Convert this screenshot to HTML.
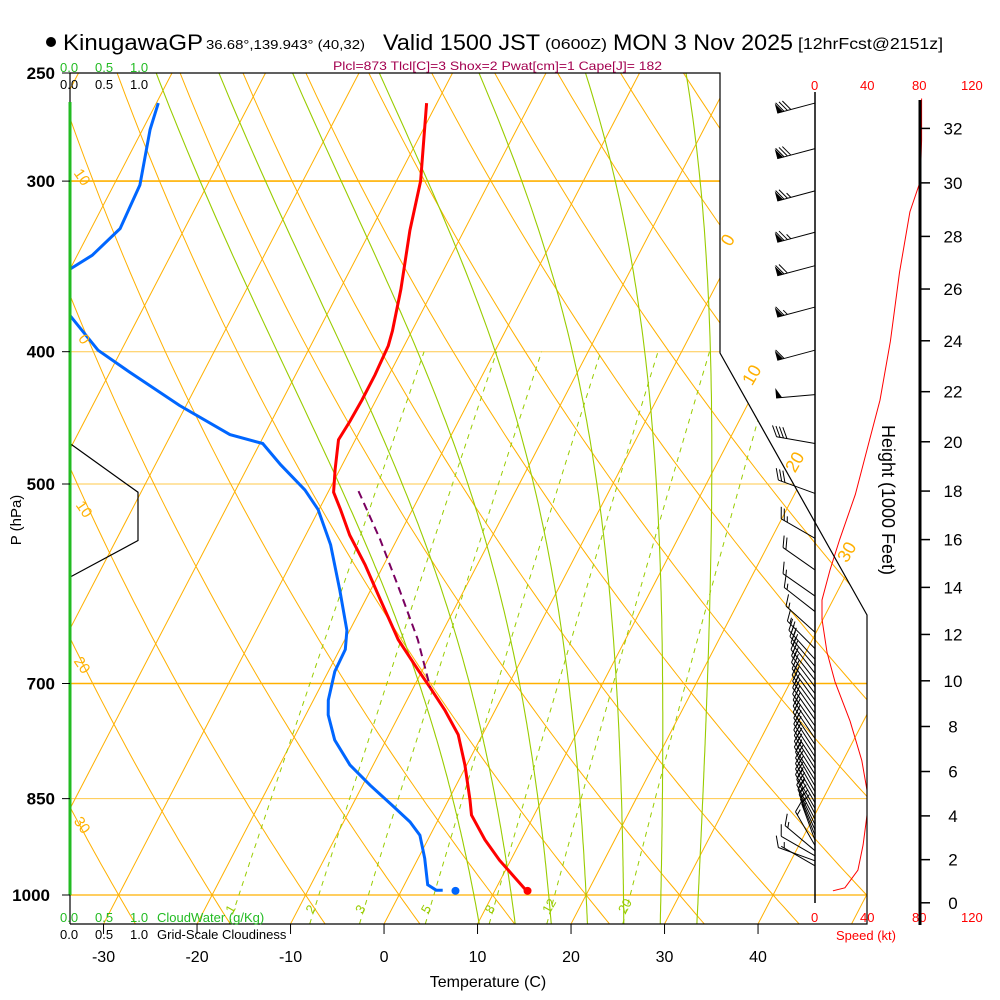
<!DOCTYPE html>
<html><head><meta charset="utf-8">
<style>
html,body{margin:0;padding:0;background:#fff;}
svg{display:block;font-family:"Liberation Sans",sans-serif;}
</style></head>
<body>
<svg id="chart" width="1000" height="1000" viewBox="0 0 1000 1000" xmlns="http://www.w3.org/2000/svg">
<defs><clipPath id="plotclip"><polygon points="70,73 720,73 720,353 867,615 867,924 70,924"/></clipPath>
<clipPath id="leftclip"><rect x="70" y="73" width="800" height="851"/></clipPath></defs>
<g id="grid" clip-path="url(#plotclip)"></g>
<g id="series"></g>
<g id="axes"></g>
<g font-size="22">
<circle cx="51" cy="42" r="5" fill="#000"/>
<text x="63" y="50" textLength="140" lengthAdjust="spacingAndGlyphs">KinugawaGP</text>
<text x="206" y="49" font-size="13" textLength="159" lengthAdjust="spacingAndGlyphs">36.68°,139.943° (40,32)</text>
<text x="383" y="50" textLength="157" lengthAdjust="spacingAndGlyphs">Valid 1500 JST</text>
<text x="545" y="49" font-size="15" textLength="62" lengthAdjust="spacingAndGlyphs">(0600Z)</text>
<text x="613" y="50" textLength="180" lengthAdjust="spacingAndGlyphs">MON 3 Nov 2025</text>
<text x="798" y="49" font-size="16" textLength="145" lengthAdjust="spacingAndGlyphs">[12hrFcst@2151z]</text>
</g>
<text x="333" y="70" font-size="12" fill="#a3004f" textLength="329" lengthAdjust="spacingAndGlyphs">Plcl=873 Tlcl[C]=3 Shox=2 Pwat[cm]=1 Cape[J]= 182</text>
</svg>
<script>
// ---- data ----
const tempP=[263,300,326,360,386,396,416,434,450,464,488,507,522,545,573,608,650,684,705,732,763,803,852,874,911,943,972,993];
const tempT=[-41.1,-37.4,-35.8,-33.5,-32.1,-31.7,-31.5,-31.5,-31.6,-31.8,-30.5,-29.4,-27.7,-25.3,-22.0,-18.4,-14.3,-10.5,-8.2,-5.4,-2.6,-0.2,2.3,3.3,6.1,8.8,11.5,13.4];
const dewP=[263,275,302,325,340,348,360,376,399,414,438,460,467,484,505,522,554,598,640,661,686,720,738,770,803,831,859,884,904,940,983,992,992];
const dewT=[-69.8,-69.2,-67.2,-66.9,-68.4,-70,-78,-67.5,-62.5,-57.9,-50.7,-43.7,-39.7,-36.6,-32.6,-30.1,-26.8,-23.3,-20.3,-19.4,-19.3,-18.4,-17.6,-15.5,-12.5,-9.2,-5.8,-2.9,-1.1,0.7,2.5,3.7,4.4];
const sfcT=[993,13.4];
const sfcTd=[993,5.8];
const parcelP=[506,549,598,650,705];
const parcelT=[-26.8,-21.8,-16.9,-12.2,-8.2];
const speedP=[993,988,959,919,874,838,797,746,698,664,628,608,578,549,509,464,434,393,350,316,300,280,261];
const speedKt=[13.8,23,33,37,40,40,36,27,15.4,9.2,5.4,5.4,11.5,19,31,42,50,58,65,73,81,82,82];
const cloudP=[467,507,550,585];
const cloudFrac=[0,1,1,0];
const barbP=[263,284,305,327,346,371,399,430,467,508,548,578,604,620,642,660,672,680,688,696,704,712,720,728,736,744,752,760,768,776,784,792,800,808,816,824,832,840,848,856,864,872,880,888,896,904,912,920,928,936,944,952];
const barbDir=[255,255,255,255,255,255,255,265,280,290,300,305,305,308,312,315,318,320,322,322,323,323,324,324,325,325,325,326,326,326,327,327,327,328,328,328,330,330,330,330,330,332,332,334,336,338,340,330,310,300,290,300];
const barbSpd=[80,80,75,75,70,65,60,50,40,30,25,20,15,15,15,15,20,20,20,20,20,20,20,20,20,20,20,20,20,20,20,20,20,20,20,20,20,20,20,20,20,20,20,15,15,15,15,15,15,10,10,5];
const tempTicks=[-30,-20,-10,0,10,20,30,40];
const presTicks=[250,300,400,500,700,850,1000];
const heightTicks=[0,2,4,6,8,10,12,14,16,18,20,22,24,26,28,30,32];
const mixRatios=[1,2,3,5,8,12,20];
const moistThetaW=[8,12,16,20,24,28,32];

// ---- scales ----
const NS='http://www.w3.org/2000/svg';
const LN4=Math.log(4);
function yP(p){return 895+Math.log(p/1000)/LN4*822;}
function xT(t,p){return 384+9.35*t+(924-yP(p))*0.52;}
function xS(s){return 815+s*1.3;}
function mk(tag,attrs,parent){const e=document.createElementNS(NS,tag);for(const k in attrs)e.setAttribute(k,attrs[k]);parent.appendChild(e);return e;}
const grid=document.getElementById('grid'),series=document.getElementById('series'),axes=document.getElementById('axes');
function pathOf(pts){return pts.map((q,i)=>(i?'L':'M')+q[0].toFixed(1)+','+q[1].toFixed(1)).join('');}

// pressure lines
const plines=[[300,720,'#ffb000',1.6],[400,720,'#ffc84a',1],[500,867,'#ffc84a',1],[700,867,'#ffb000',1.6],[850,867,'#ffc84a',1],[1000,867,'#ffb000',1.2]];
plines.forEach(l=>{const e=mk('line',{x1:70,x2:l[1],y1:yP(l[0]),y2:yP(l[0]),stroke:l[2],'stroke-width':l[3]},grid);

});
// isotherms
for(let t=-110;t<=50;t+=10){const e=mk('line',{x1:xT(t,1050),y1:yP(1050),x2:xT(t,250),y2:yP(250),stroke:'#ffb000','stroke-width':1},grid);

}
// dry adiabats
for(let th=-40;th<=130;th+=10){const pts=[];for(let p=1050;p>=250;p-=10){const T=(th+273.15)*Math.pow(p/1000,0.2857)-273.15;pts.push([xT(T,p),yP(p)]);}
const e=mk('path',{d:pathOf(pts),fill:'none',stroke:'#ffb000','stroke-width':1},grid);

}
// moist adiabats
function es(tc){return 6.112*Math.exp(17.67*tc/(tc+243.5));}
function dTdp(T,p){const tc=T-273.15;const e=es(tc);const rs=0.622*e/(p-e);const Lv=2.5e6,Rd=287,cp=1005;
return ((Rd*T+Lv*rs)/p)/(cp+Lv*Lv*rs*0.622/(Rd*T*T));}
moistThetaW.forEach(tw=>{let T=tw+273.15;const up=[];let p=1000;up.push([p,T]);
while(p>250){const h=-5;const k1=dTdp(T,p);const k2=dTdp(T+h*k1/2,p+h/2);T+=h*k2;p+=h;up.push([p,T]);}
T=tw+273.15;p=1000;const dn=[];while(p<1050){const h=5;const k1=dTdp(T,p);const k2=dTdp(T+h*k1/2,p+h/2);T+=h*k2;p+=h;dn.unshift([p,T]);}
const pts=dn.concat(up).map(q=>[xT(q[1]-273.15,q[0]),yP(q[0])]);
const e=mk('path',{d:pathOf(pts),fill:'none',stroke:'#99cc00','stroke-width':1.1},grid);

});
// mixing ratio lines
function tdFromW(w,p){const e=w*p/(622+w);const l=Math.log(e/6.112);return 243.5*l/(17.67-l);}
mixRatios.forEach(w=>{const pts=[];for(let p=1050;p>=400;p-=10)pts.push([xT(tdFromW(w,p),p),yP(p)]);
const e=mk('path',{d:pathOf(pts),fill:'none',stroke:'#99cc00','stroke-width':1,'stroke-dasharray':'5,5'},grid);


const lx=xT(tdFromW(w,1030),1030);
const t=mk('text',{x:lx-4,y:yP(1030)+4,'font-size':13,fill:'#99cc00',transform:'rotate(-60 '+(lx-4)+' '+(yP(1030))+')'},axes);t.textContent=w;

});
// isotherm labels (right)
[[0,733,243],[10,757,378],[20,800,465],[30,852,555]].forEach(a=>{const t=mk('text',{x:a[1],y:a[2],'font-size':18,fill:'#ffb000','text-anchor':'middle',transform:'rotate(-60 '+a[1]+' '+a[2]+')'},axes);t.textContent=a[0];

});
// dry adiabat labels (left)
[['10',78,180],['0',80,342],['10',80,512],['20',78,668],['30',78,828]].forEach(a=>{const t=mk('text',{x:a[1],y:a[2],'font-size':15,fill:'#ffb000','text-anchor':'middle',transform:'rotate(55 '+a[1]+' '+a[2]+')'},axes);t.textContent=a[0];

});

// frame
const fr=mk('polyline',{points:'70,924 70,73 720,73 720,353 867,615 867,924 70,924',fill:'none',stroke:'#000','stroke-width':1.2},axes);


const gl=mk('line',{x1:70,x2:70,y1:102,y2:895,stroke:'#22bb22','stroke-width':3},axes);


// pressure ticks
presTicks.forEach(p=>{const y=yP(p);mk('line',{x1:62,x2:70,y1:y,y2:y,stroke:'#000'},axes);
const t=mk('text',{x:p==1000?50:55,y:y+6,'font-size':17,'font-weight':'bold','text-anchor':'end'},axes);t.textContent=p;

});
const pl=mk('text',{x:21,y:520,'font-size':15,'text-anchor':'middle',transform:'rotate(-90 21 520)'},axes);pl.textContent='P (hPa)';


// temperature ticks
tempTicks.forEach(t=>{const x=xT(t,1050);mk('line',{x1:x,x2:x,y1:924,y2:934,stroke:'#000'},axes);
const e=mk('text',{x:x,y:962,'font-size':16,'text-anchor':'middle'},axes);e.textContent=t;

});
const tl=mk('text',{x:488,y:987,'font-size':16,'text-anchor':'middle'},axes);tl.textContent='Temperature (C)';


// cloud scale labels
function lbl(x,y,s,c,fs,name){const e=mk('text',{x:x,y:y,'font-size':fs,fill:c},axes);e.textContent=s;return e;}
[['0.0',60],['0.5',95],['1.0',130]].forEach(a=>{lbl(a[1],72,a[0],'#22bb22',13,'cloudwater-scale-top');lbl(a[1],89,a[0],'#000',13,'cloudiness-scale-top');
lbl(a[1],922,a[0],'#22bb22',13,'cloudwater-scale-bottom');lbl(a[1],939,a[0],'#000',13,'cloudiness-scale-bottom');});
lbl(157,922,'CloudWater (g/Kg)','#22bb22',13,'cloudwater-legend');
lbl(157,939,'Grid-Scale Cloudiness','#000',13,'cloudiness-legend');
// speed panel
const sa=mk('line',{x1:815,x2:815,y1:92,y2:903,stroke:'#000','stroke-width':1.5},axes);


[0,40,80,120].forEach(s=>{lbl(xS(s)-(s>=100?10:s>0?7:4),90,String(s),'#ff0000',13,'speed-tick-top');lbl(xS(s)-(s>=100?10:s>0?7:4),922,String(s),'#ff0000',13,'speed-tick-bottom');});
lbl(836,940,'Speed (kt)','#ff0000',13,'speed-axis-title');
// height axis
function pStd(kft){const h=kft*304.8;return 1013.25*Math.pow(1-2.25577e-5*h,5.25588);}
const ha=mk('line',{x1:920,x2:920,y1:100,y2:925,stroke:'#000','stroke-width':3},axes);


heightTicks.forEach(h=>{const y=yP(pStd(h));mk('line',{x1:920,x2:930,y1:y,y2:y,stroke:'#000','stroke-width':1.5},axes);
const e=mk('text',{x:953,y:y+6,'font-size':17,'text-anchor':'middle'},axes);e.textContent=h;

});
const ht=mk('text',{x:882,y:500,'font-size':18,'text-anchor':'middle',transform:'rotate(90 882 500)'},axes);ht.textContent='Height (1000 Feet)';



// series
const cl=mk('polyline',{points:cloudP.map((p,i)=>(70+cloudFrac[i]*68)+','+yP(p)).join(' '),fill:'none',stroke:'#000','stroke-width':1.2},series);


const sp=mk('path',{d:pathOf(speedP.map((p,i)=>[xS(speedKt[i]),yP(p)])),fill:'none',stroke:'#ff0000','stroke-width':1},series);


const dw=mk('path',{d:pathOf(dewP.map((p,i)=>[xT(dewT[i],p),yP(p)])),fill:'none',stroke:'#0066ff','stroke-width':3,'clip-path':'url(#leftclip)'},series);


const tp=mk('path',{d:pathOf(tempP.map((p,i)=>[xT(tempT[i],p),yP(p)])),fill:'none',stroke:'#ff0000','stroke-width':3},series);


const pc=mk('path',{d:pathOf(parcelP.map((p,i)=>[xT(parcelT[i],p),yP(p)])),fill:'none',stroke:'#7a0060','stroke-width':2,'stroke-dasharray':'8,5'},series);


const sd=mk('circle',{cx:xT(sfcT[1],sfcT[0])+1,cy:yP(sfcT[0]),r:4,fill:'#ff0000'},series);


const sdd=mk('circle',{cx:xT(sfcTd[1],sfcTd[0]),cy:yP(sfcTd[0]),r:4,fill:'#0066ff'},series);



// barbs
barbP.forEach((p,i)=>{const bx=815,by=yP(p);const d=barbDir[i]*Math.PI/180;const ux=Math.sin(d),uy=-Math.cos(d);const L=39;
const tx=bx+ux*L,ty=by+uy*L;const g=mk('g',{},series);


mk('line',{x1:bx,y1:by,x2:tx,y2:ty,stroke:'#000','stroke-width':1},g);
const px=-uy,py=ux;
const fx=px*0.87+ux*0.5, fy=py*0.87+uy*0.5;
let s=Math.round(barbSpd[i]/5)*5;let pos=0;
while(s>=50){const ax=tx-ux*pos,ay=ty-uy*pos;const cx2=tx-ux*(pos+6),cy2=ty-uy*(pos+6);
mk('polygon',{points:ax+','+ay+' '+(ax+px*10)+','+(ay+py*10)+' '+cx2+','+cy2,fill:'#000'},g);pos+=7;s-=50;}
while(s>=10){const ax=tx-ux*pos,ay=ty-uy*pos;mk('line',{x1:ax,y1:ay,x2:ax+fx*12,y2:ay+fy*12,stroke:'#000','stroke-width':1},g);pos+=3.5;s-=10;}
if(s>=5){if(pos==0)pos=3.5;const ax=tx-ux*pos,ay=ty-uy*pos;mk('line',{x1:ax,y1:ay,x2:ax+fx*6,y2:ay+fy*6,stroke:'#000','stroke-width':1},g);}
});
</script>
</body></html>
